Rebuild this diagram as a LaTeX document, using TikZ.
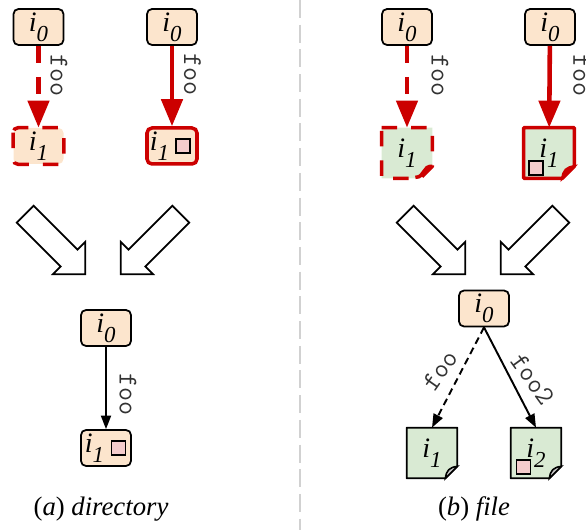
\documentclass[tikz,border=0pt]{standalone}
\usepackage{fontspec}
\setmainfont{Liberation Serif}
\usetikzlibrary{arrows.meta,backgrounds,calc,shapes.arrows}

\definecolor{nodeorange}{HTML}{FCE5CD}
\definecolor{filegreen}{HTML}{D9EAD3}
\definecolor{markpink}{HTML}{F4CCCC}
\definecolor{opred}{HTML}{CC0000}

\tikzset{
    inode/.style={minimum width=1cm,minimum height=.72cm,inner sep=0pt,rounded corners=.1cm,fill=nodeorange},
    filenode/.style={minimum width=1cm,minimum height=1cm,inner sep=0pt},
    blackedge/.style={draw=black,line width=1pt},
    rededge/.style={draw=opred,line width=2pt},
    redarrow/.style={draw=opred,line width=2.6pt,-{Triangle[length=.54cm,width=.42cm,fill=opred]}},
    redsplit/.style={dash pattern=on .34cm off .28cm},
    redbroken/.style={dash pattern=on .31cm off .28cm},
    thinarrow/.style={line width=1.1pt,-{Triangle[length=.27cm,width=.2cm]}},
    foolabel/.style={font=\fontsize{15.5}{15.5}\selectfont\ttfamily,text=black!80,inner sep=0pt},
    markbox/.style={draw=black,line width=1pt,fill=markpink,minimum size=.28cm,inner sep=0pt},
    mergearrow/.style={draw=black,line width=1pt,fill=white,single arrow,single arrow tip angle=90,single arrow head extend=.22cm,single arrow head indent=0pt,minimum height=1.7cm,inner sep=.22cm},
    caption/.style={font=\fontsize{15.2}{15.2}\selectfont,inner sep=0pt}
}

\newcommand{\idx}[1]{{\fontsize{16}{16}\selectfont\textit{i}\raisebox{-.75ex}{\fontsize{13}{13}\selectfont\textit{#1}}}}

% outline of a file, drawn behind its node
\newcommand{\filesheet}[2]{
    \begin{scope}[on background layer]
        \draw[#2,fill=filegreen,line join=round] (#1.north west) -- (#1.north east) -- ([yshift=.24cm]#1.south east) -- ([xshift=-.24cm]#1.south east) -- (#1.south west) -- cycle;
    \end{scope}
}
\newcommand{\filefold}[2]{
    \draw[#2] ([yshift=.24cm]#1.south east) .. controls ([xshift=-.16cm,yshift=.22cm]#1.south east) and ([xshift=-.22cm,yshift=.16cm]#1.south east) .. ([xshift=-.24cm]#1.south east) -- cycle;
}

\begin{document}
\begin{tikzpicture}
    \useasboundingbox (0,0) rectangle (11.72,10.6);

    % left part
    \node[inode,blackedge] (al0) at (.77,10.06) {\idx{0}};
    \node[inode] (al1) at (.77,7.68) {\idx{1}};
    \draw[rededge,redbroken,rounded corners=.1cm] (al1.north west) rectangle (al1.south east);
    \node[inode,blackedge] (ar0) at (3.44,10.06) {\idx{0}};
    \node[inode,rededge] (ar1) at (3.44,7.68) {\idx{1}\kern.5cm};
    \node[markbox] (arm) at (3.66,7.68) {};

    \draw[redarrow,redsplit] (al0) to node[foolabel,rotate=-90,pos=.36,yshift=.41cm] {foo} (al1);
    \draw[redarrow] (ar0) to node[foolabel,rotate=-90,pos=.36,yshift=.41cm] {foo} (ar1);

    \node[mergearrow,rotate=-45] (am1) at (1.02,5.8) {};
    \node[mergearrow,rotate=-135] (am2) at (3.1,5.8) {};

    \node[inode,blackedge] (a0) at (2.12,4.04) {\idx{0}};
    \node[inode,blackedge] (a1) at (2.12,1.64) {\idx{1}\kern.46cm};
    \node[markbox] (am) at (2.37,1.64) {};
    \draw[thinarrow] (a0) to node[foolabel,rotate=-90,pos=.58,yshift=.44cm] {foo} (a1);

    \node[caption] (acap) at (2.02,.42) {(\textit{a}) \textit{directory}};

    % divider
    \coordinate (dtop) at (6,10.6);
    \coordinate (dbot) at (6,0);
    \draw[black!18,line width=1.1pt,dash pattern=on .36cm off .134cm] (dtop) to (dbot);

    % right part
    \node[inode,blackedge] (bl0) at (8.14,10.06) {\idx{0}};
    \node[filenode] (bl1) at (8.14,7.54) {\idx{1}};
    \filesheet{bl1}{rededge,redbroken}
    \draw[draw=opred,line width=2pt] ([yshift=.24cm]bl1.south east) .. controls ([xshift=-.2cm,yshift=.26cm]bl1.south east) and ([xshift=-.14cm,yshift=.02cm]bl1.south east) .. ([xshift=-.34cm,yshift=.02cm]bl1.south east);
    \node[inode,blackedge] (br0) at (11,10.06) {\idx{0}};
    \node[filenode] (br1) at (10.98,7.54) {\idx{1}};
    \filesheet{br1}{rededge}
    \filefold{br1}{draw=opred,line width=1.4pt,fill=opred}
    \node[markbox] (brm) at (10.72,7.24) {};

    \draw[redarrow,redsplit] (bl0) to node[foolabel,rotate=-90,pos=.36,yshift=.66cm] {foo} (bl1);
    \draw[redarrow] (br0) to node[foolabel,rotate=-90,pos=.36,yshift=.64cm] {foo} (br1);

    \node[mergearrow,rotate=-45] (bm1) at (8.62,5.8) {};
    \node[mergearrow,rotate=-135] (bm2) at (10.7,5.8) {};

    \node[inode,blackedge] (b0) at (9.68,4.43) {\idx{0}};
    \node[filenode] (b1) at (8.64,1.54) {\idx{1}};
    \filesheet{b1}{blackedge}
    \filefold{b1}{draw=black,line width=.9pt,fill=gray!45}
    \node[filenode] (b2) at (10.72,1.54) {\idx{2}};
    \filesheet{b2}{blackedge}
    \filefold{b2}{draw=black,line width=.9pt,fill=gray!45}
    \node[markbox] (bm) at (10.47,1.26) {};

    \draw[thinarrow,dash pattern=on .14cm off .09cm] (b0.south) to node[foolabel,rotate=55,pos=.54,yshift=.39cm] {foo} (b1.north);
    \draw[thinarrow] (b0.south) to node[foolabel,rotate=-54,pos=.63,yshift=.39cm] {foo2} (b2.north);

    \node[caption] (bcap) at (9.48,.42) {(\textit{b}) \textit{file}};
\end{tikzpicture}
\end{document}
